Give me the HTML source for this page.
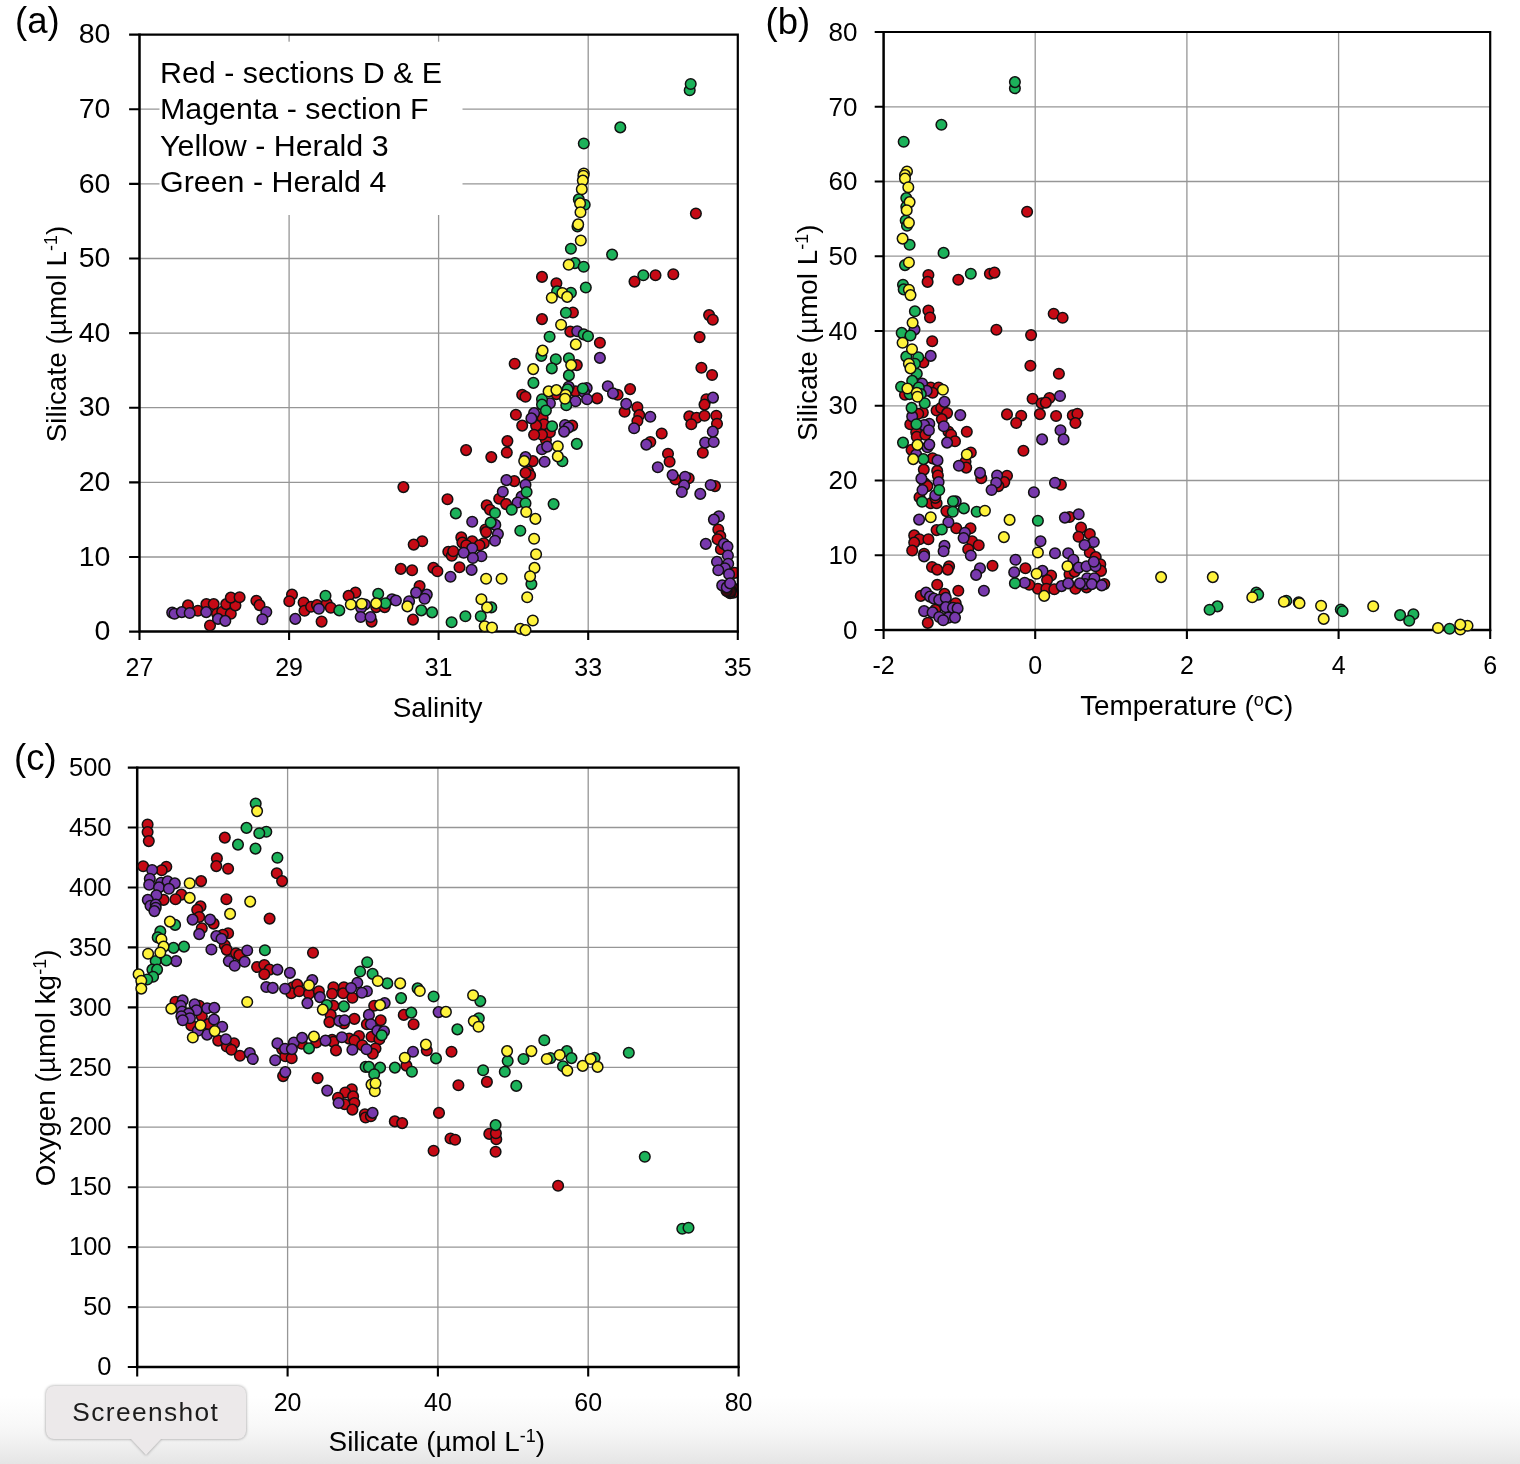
<!DOCTYPE html>
<html><head><meta charset="utf-8"><title>Figure</title>
<style>
html,body{margin:0;padding:0;background:#fff;}
body{width:1520px;height:1464px;overflow:hidden;position:relative;font-family:"Liberation Sans",sans-serif;}
svg{position:absolute;left:0;top:0;}
.tk{font-family:"Liberation Sans",sans-serif;fill:#000;}
.ax{font-family:"Liberation Sans",sans-serif;font-size:27.9px;fill:#000;}
.pl{font-family:"Liberation Sans",sans-serif;font-size:36.5px;fill:#000;}
.lg{font-family:"Liberation Sans",sans-serif;font-size:30.4px;fill:#000;}
.pt circle{stroke:#111;stroke-width:1.5;}
.fade{position:absolute;left:0;top:1396px;width:1520px;height:68px;background:linear-gradient(#fff 0%,#fcfcfc 20%,#f8f8f8 44%,#f1f1f1 68%,#e5e5e5 100%);}
.tip{position:absolute;left:46px;top:1386px;width:199.6px;height:52.5px;border-radius:8px;background:#ece9ea;filter:drop-shadow(0 0.5px 1.5px rgba(0,0,0,.4));font-size:26.3px;line-height:52px;text-align:center;color:#1c1c1c;letter-spacing:1.4px;}
.tip:after{content:"";position:absolute;left:83.7px;top:52px;border:16px solid transparent;border-top:17.5px solid #ece9ea;border-bottom:0;}
</style></head><body>
<div class="fade"></div>
<svg width="1520" height="1464" viewBox="0 0 1520 1464">
<!-- panel a -->
<path d="M289.1 34.6V631.6M438.6 34.6V631.6M588.2 34.6V631.6M139.5 557.0H737.8M139.5 482.4H737.8M139.5 407.7H737.8M139.5 333.1H737.8M139.5 258.5H737.8M139.5 183.9H737.8M139.5 109.2H737.8" stroke="#969696" stroke-width="1.3" fill="none"/>
<rect x="159.5" y="41.7" width="303" height="173.3" fill="#fff"/>
<path d="M139.5 631.6v8.5M289.1 631.6v8.5M438.6 631.6v8.5M588.2 631.6v8.5M737.8 631.6v8.5M139.5 631.6h-10.4M139.5 557.0h-10.4M139.5 482.4h-10.4M139.5 407.7h-10.4M139.5 333.1h-10.4M139.5 258.5h-10.4M139.5 183.9h-10.4M139.5 109.2h-10.4M139.5 34.6h-10.4" stroke="#000" stroke-width="2.1" fill="none"/>
<path d="M139.5 33.6V632.8000000000001M138.3 631.6H738.8" stroke="#000" stroke-width="2.5" fill="none"/>
<text class="tk" font-size="25" x="139.5" y="675.5" text-anchor="middle">27</text>
<text class="tk" font-size="25" x="289.1" y="675.5" text-anchor="middle">29</text>
<text class="tk" font-size="25" x="438.6" y="675.5" text-anchor="middle">31</text>
<text class="tk" font-size="25" x="588.2" y="675.5" text-anchor="middle">33</text>
<text class="tk" font-size="25" x="737.8" y="675.5" text-anchor="middle">35</text>
<text class="tk" font-size="28.5" x="110.4" y="640.2" text-anchor="end">0</text>
<text class="tk" font-size="28.5" x="110.4" y="565.6" text-anchor="end">10</text>
<text class="tk" font-size="28.5" x="110.4" y="491.0" text-anchor="end">20</text>
<text class="tk" font-size="28.5" x="110.4" y="416.3" text-anchor="end">30</text>
<text class="tk" font-size="28.5" x="110.4" y="341.7" text-anchor="end">40</text>
<text class="tk" font-size="28.5" x="110.4" y="267.1" text-anchor="end">50</text>
<text class="tk" font-size="28.5" x="110.4" y="192.5" text-anchor="end">60</text>
<text class="tk" font-size="28.5" x="110.4" y="117.8" text-anchor="end">70</text>
<text class="tk" font-size="28.5" x="110.4" y="43.2" text-anchor="end">80</text>
<clipPath id="ca"><rect x="100" y="0" width="638.3" height="700"/></clipPath>
<g class="pt" clip-path="url(#ca)"><g fill="#c60a15">
<circle cx="188.0" cy="605.4" r="5.3"/><circle cx="197.9" cy="610.8" r="5.3"/><circle cx="206.4" cy="604.1" r="5.3"/><circle cx="213.7" cy="604.1" r="5.3"/><circle cx="217.0" cy="613.7" r="5.3"/><circle cx="222.2" cy="611.7" r="5.3"/><circle cx="226.2" cy="604.1" r="5.3"/><circle cx="230.8" cy="613.7" r="5.3"/><circle cx="235.4" cy="605.4" r="5.3"/><circle cx="230.8" cy="597.6" r="5.3"/><circle cx="239.6" cy="597.2" r="5.3"/><circle cx="210.0" cy="625.5" r="5.3"/><circle cx="256.4" cy="600.8" r="5.3"/><circle cx="259.5" cy="605.1" r="5.3"/><circle cx="292.0" cy="594.6" r="5.3"/><circle cx="289.3" cy="601.2" r="5.3"/><circle cx="303.6" cy="602.5" r="5.3"/><circle cx="304.5" cy="610.8" r="5.3"/><circle cx="311.1" cy="606.8" r="5.3"/><circle cx="317.0" cy="605.1" r="5.3"/><circle cx="326.8" cy="603.2" r="5.3"/><circle cx="330.8" cy="607.8" r="5.3"/><circle cx="321.6" cy="621.6" r="5.3"/><circle cx="466.1" cy="450.1" r="5.3"/><circle cx="507.4" cy="441.1" r="5.3"/><circle cx="491.3" cy="457.1" r="5.3"/><circle cx="506.8" cy="452.5" r="5.3"/><circle cx="532.8" cy="461.1" r="5.3"/><circle cx="528.2" cy="471.6" r="5.3"/><circle cx="530.1" cy="475.3" r="5.3"/><circle cx="525.5" cy="472.9" r="5.3"/><circle cx="514.3" cy="481.1" r="5.3"/><circle cx="403.4" cy="487.1" r="5.3"/><circle cx="447.5" cy="499.2" r="5.3"/><circle cx="486.7" cy="505.4" r="5.3"/><circle cx="490.0" cy="509.7" r="5.3"/><circle cx="499.2" cy="498.8" r="5.3"/><circle cx="506.1" cy="504.1" r="5.3"/><circle cx="485.4" cy="529.5" r="5.3"/><circle cx="486.1" cy="532.1" r="5.3"/><circle cx="461.3" cy="537.4" r="5.3"/><circle cx="462.4" cy="542.6" r="5.3"/><circle cx="472.2" cy="541.3" r="5.3"/><circle cx="466.3" cy="545.3" r="5.3"/><circle cx="483.8" cy="543.3" r="5.3"/><circle cx="479.5" cy="545.3" r="5.3"/><circle cx="422.2" cy="541.3" r="5.3"/><circle cx="413.7" cy="544.6" r="5.3"/><circle cx="448.3" cy="551.8" r="5.3"/><circle cx="451.8" cy="555.8" r="5.3"/><circle cx="453.2" cy="551.2" r="5.3"/><circle cx="400.8" cy="568.9" r="5.3"/><circle cx="412.1" cy="570.3" r="5.3"/><circle cx="433.4" cy="567.9" r="5.3"/><circle cx="437.4" cy="571.2" r="5.3"/><circle cx="459.5" cy="567.2" r="5.3"/><circle cx="419.6" cy="586.1" r="5.3"/><circle cx="355.5" cy="592.6" r="5.3"/><circle cx="348.6" cy="595.9" r="5.3"/><circle cx="371.6" cy="621.6" r="5.3"/><circle cx="413.0" cy="619.6" r="5.3"/><circle cx="376.2" cy="607.1" r="5.3"/><circle cx="384.7" cy="607.1" r="5.3"/><circle cx="545.9" cy="440.0" r="5.3"/><circle cx="668.0" cy="453.8" r="5.3"/><circle cx="669.6" cy="461.7" r="5.3"/><circle cx="702.8" cy="452.8" r="5.3"/><circle cx="675.5" cy="479.5" r="5.3"/><circle cx="688.7" cy="478.2" r="5.3"/><circle cx="715.0" cy="486.1" r="5.3"/><circle cx="650.3" cy="442.0" r="5.3"/><circle cx="718.3" cy="529.5" r="5.3"/><circle cx="720.3" cy="536.1" r="5.3"/><circle cx="717.6" cy="539.3" r="5.3"/><circle cx="720.9" cy="549.2" r="5.3"/><circle cx="734.7" cy="572.9" r="5.3"/><circle cx="728.2" cy="591.3" r="5.3"/><circle cx="731.4" cy="590.0" r="5.3"/><circle cx="733.4" cy="592.6" r="5.3"/><circle cx="730.1" cy="593.3" r="5.3"/><circle cx="726.8" cy="589.3" r="5.3"/><circle cx="732.1" cy="587.4" r="5.3"/><circle cx="542.0" cy="276.9" r="5.3"/><circle cx="556.4" cy="283.3" r="5.3"/><circle cx="634.5" cy="281.6" r="5.3"/><circle cx="655.5" cy="275.2" r="5.3"/><circle cx="673.3" cy="274.3" r="5.3"/><circle cx="572.9" cy="312.5" r="5.3"/><circle cx="542.0" cy="319.1" r="5.3"/><circle cx="570.3" cy="331.6" r="5.3"/><circle cx="599.9" cy="342.7" r="5.3"/><circle cx="709.1" cy="315.1" r="5.3"/><circle cx="712.8" cy="319.7" r="5.3"/><circle cx="699.6" cy="337.1" r="5.3"/><circle cx="576.8" cy="365.1" r="5.3"/><circle cx="701.4" cy="367.7" r="5.3"/><circle cx="712.1" cy="375.0" r="5.3"/><circle cx="630.1" cy="389.1" r="5.3"/><circle cx="617.6" cy="394.7" r="5.3"/><circle cx="597.2" cy="398.4" r="5.3"/><circle cx="575.5" cy="391.4" r="5.3"/><circle cx="556.4" cy="394.1" r="5.3"/><circle cx="637.4" cy="407.2" r="5.3"/><circle cx="624.6" cy="411.8" r="5.3"/><circle cx="639.3" cy="415.1" r="5.3"/><circle cx="637.4" cy="421.0" r="5.3"/><circle cx="706.4" cy="399.3" r="5.3"/><circle cx="704.5" cy="404.6" r="5.3"/><circle cx="689.3" cy="416.4" r="5.3"/><circle cx="696.6" cy="417.7" r="5.3"/><circle cx="704.5" cy="415.8" r="5.3"/><circle cx="691.3" cy="424.3" r="5.3"/><circle cx="716.3" cy="415.8" r="5.3"/><circle cx="717.0" cy="423.7" r="5.3"/><circle cx="661.7" cy="433.5" r="5.3"/><circle cx="572.2" cy="425.6" r="5.3"/><circle cx="542.6" cy="417.7" r="5.3"/><circle cx="543.9" cy="424.3" r="5.3"/><circle cx="549.9" cy="432.2" r="5.3"/><circle cx="542.0" cy="434.8" r="5.3"/><circle cx="695.9" cy="213.5" r="5.3"/><circle cx="514.7" cy="363.8" r="5.3"/><circle cx="522.2" cy="394.7" r="5.3"/><circle cx="525.5" cy="396.7" r="5.3"/><circle cx="515.9" cy="414.7" r="5.3"/><circle cx="522.2" cy="425.6" r="5.3"/><circle cx="536.1" cy="425.6" r="5.3"/><circle cx="534.1" cy="434.8" r="5.3"/>
</g>
<g fill="#3a0a10">
<circle cx="727.5" cy="590.5" r="5.3"/><circle cx="729.5" cy="591.5" r="5.3"/><circle cx="731.0" cy="590.0" r="5.3"/><circle cx="728.5" cy="592.0" r="5.3"/><circle cx="730.5" cy="591.8" r="5.3"/><circle cx="726.5" cy="591.0" r="5.3"/>
</g>
<g fill="#7839ac">
<circle cx="172.2" cy="612.6" r="5.3"/><circle cx="174.5" cy="613.7" r="5.3"/><circle cx="181.8" cy="612.1" r="5.3"/><circle cx="189.7" cy="613.0" r="5.3"/><circle cx="206.2" cy="612.1" r="5.3"/><circle cx="218.0" cy="618.9" r="5.3"/><circle cx="225.3" cy="620.9" r="5.3"/><circle cx="266.3" cy="612.0" r="5.3"/><circle cx="262.4" cy="619.3" r="5.3"/><circle cx="295.3" cy="618.9" r="5.3"/><circle cx="318.9" cy="608.8" r="5.3"/><circle cx="525.5" cy="457.1" r="5.3"/><circle cx="506.4" cy="480.1" r="5.3"/><circle cx="525.5" cy="484.7" r="5.3"/><circle cx="502.8" cy="491.7" r="5.3"/><circle cx="521.6" cy="496.6" r="5.3"/><circle cx="517.6" cy="502.5" r="5.3"/><circle cx="472.2" cy="521.8" r="5.3"/><circle cx="495.3" cy="524.9" r="5.3"/><circle cx="497.9" cy="534.1" r="5.3"/><circle cx="495.0" cy="540.7" r="5.3"/><circle cx="472.2" cy="548.2" r="5.3"/><circle cx="463.7" cy="552.8" r="5.3"/><circle cx="481.4" cy="556.2" r="5.3"/><circle cx="472.9" cy="558.0" r="5.3"/><circle cx="471.6" cy="569.9" r="5.3"/><circle cx="450.5" cy="576.8" r="5.3"/><circle cx="416.1" cy="592.6" r="5.3"/><circle cx="426.8" cy="594.6" r="5.3"/><circle cx="424.6" cy="598.8" r="5.3"/><circle cx="409.1" cy="601.2" r="5.3"/><circle cx="392.0" cy="599.2" r="5.3"/><circle cx="395.9" cy="600.5" r="5.3"/><circle cx="365.0" cy="604.5" r="5.3"/><circle cx="361.1" cy="607.8" r="5.3"/><circle cx="360.7" cy="617.0" r="5.3"/><circle cx="370.5" cy="617.0" r="5.3"/><circle cx="542.0" cy="449.2" r="5.3"/><circle cx="547.2" cy="446.6" r="5.3"/><circle cx="544.6" cy="461.7" r="5.3"/><circle cx="646.3" cy="444.6" r="5.3"/><circle cx="657.8" cy="467.2" r="5.3"/><circle cx="672.6" cy="475.1" r="5.3"/><circle cx="685.1" cy="476.8" r="5.3"/><circle cx="684.1" cy="485.4" r="5.3"/><circle cx="681.8" cy="492.0" r="5.3"/><circle cx="700.3" cy="493.9" r="5.3"/><circle cx="710.7" cy="485.0" r="5.3"/><circle cx="705.1" cy="442.6" r="5.3"/><circle cx="713.7" cy="442.0" r="5.3"/><circle cx="718.9" cy="516.3" r="5.3"/><circle cx="713.9" cy="519.6" r="5.3"/><circle cx="705.8" cy="543.9" r="5.3"/><circle cx="723.9" cy="543.9" r="5.3"/><circle cx="727.5" cy="546.6" r="5.3"/><circle cx="727.9" cy="555.5" r="5.3"/><circle cx="717.0" cy="561.7" r="5.3"/><circle cx="728.2" cy="563.7" r="5.3"/><circle cx="724.9" cy="568.3" r="5.3"/><circle cx="718.3" cy="570.3" r="5.3"/><circle cx="729.1" cy="574.2" r="5.3"/><circle cx="722.2" cy="585.4" r="5.3"/><circle cx="726.8" cy="587.4" r="5.3"/><circle cx="730.1" cy="583.4" r="5.3"/><circle cx="577.2" cy="331.2" r="5.3"/><circle cx="599.9" cy="357.9" r="5.3"/><circle cx="607.8" cy="386.2" r="5.3"/><circle cx="613.0" cy="393.4" r="5.3"/><circle cx="626.2" cy="403.9" r="5.3"/><circle cx="650.3" cy="416.8" r="5.3"/><circle cx="634.1" cy="428.3" r="5.3"/><circle cx="713.0" cy="397.6" r="5.3"/><circle cx="712.8" cy="431.6" r="5.3"/><circle cx="568.7" cy="386.8" r="5.3"/><circle cx="586.7" cy="388.1" r="5.3"/><circle cx="584.1" cy="392.1" r="5.3"/><circle cx="587.1" cy="399.3" r="5.3"/><circle cx="575.5" cy="401.3" r="5.3"/><circle cx="549.9" cy="403.3" r="5.3"/><circle cx="565.0" cy="425.0" r="5.3"/><circle cx="568.3" cy="427.6" r="5.3"/><circle cx="564.1" cy="431.6" r="5.3"/><circle cx="534.1" cy="413.1" r="5.3"/><circle cx="531.4" cy="418.4" r="5.3"/>
</g>
<g fill="#1cb25a">
<circle cx="325.5" cy="595.7" r="5.3"/><circle cx="339.3" cy="610.4" r="5.3"/><circle cx="526.6" cy="492.0" r="5.3"/><circle cx="525.5" cy="503.2" r="5.3"/><circle cx="511.7" cy="509.7" r="5.3"/><circle cx="495.0" cy="513.0" r="5.3"/><circle cx="455.8" cy="513.4" r="5.3"/><circle cx="490.7" cy="522.6" r="5.3"/><circle cx="520.3" cy="530.8" r="5.3"/><circle cx="531.4" cy="584.1" r="5.3"/><circle cx="378.2" cy="593.9" r="5.3"/><circle cx="385.4" cy="603.2" r="5.3"/><circle cx="421.3" cy="610.4" r="5.3"/><circle cx="432.1" cy="612.4" r="5.3"/><circle cx="451.6" cy="622.2" r="5.3"/><circle cx="465.4" cy="616.3" r="5.3"/><circle cx="480.8" cy="616.3" r="5.3"/><circle cx="491.3" cy="607.4" r="5.3"/><circle cx="576.8" cy="443.9" r="5.3"/><circle cx="562.4" cy="461.3" r="5.3"/><circle cx="553.6" cy="504.1" r="5.3"/><circle cx="570.9" cy="248.7" r="5.3"/><circle cx="612.1" cy="254.6" r="5.3"/><circle cx="574.9" cy="263.1" r="5.3"/><circle cx="583.7" cy="266.8" r="5.3"/><circle cx="643.3" cy="275.2" r="5.3"/><circle cx="585.8" cy="287.5" r="5.3"/><circle cx="557.1" cy="291.4" r="5.3"/><circle cx="570.9" cy="292.7" r="5.3"/><circle cx="565.9" cy="312.7" r="5.3"/><circle cx="583.7" cy="334.4" r="5.3"/><circle cx="588.0" cy="336.2" r="5.3"/><circle cx="549.6" cy="336.8" r="5.3"/><circle cx="555.8" cy="359.2" r="5.3"/><circle cx="568.9" cy="358.3" r="5.3"/><circle cx="551.8" cy="368.4" r="5.3"/><circle cx="568.9" cy="375.4" r="5.3"/><circle cx="567.6" cy="389.4" r="5.3"/><circle cx="582.8" cy="388.5" r="5.3"/><circle cx="542.0" cy="399.3" r="5.3"/><circle cx="542.0" cy="404.6" r="5.3"/><circle cx="545.9" cy="410.5" r="5.3"/><circle cx="566.3" cy="405.2" r="5.3"/><circle cx="552.1" cy="426.3" r="5.3"/><circle cx="541.3" cy="355.9" r="5.3"/><circle cx="689.7" cy="90.2" r="5.3"/><circle cx="690.7" cy="84.0" r="5.3"/><circle cx="620.3" cy="127.4" r="5.3"/><circle cx="583.8" cy="143.5" r="5.3"/><circle cx="578.8" cy="199.4" r="5.3"/><circle cx="584.7" cy="204.7" r="5.3"/><circle cx="577.5" cy="226.4" r="5.3"/><circle cx="533.4" cy="382.9" r="5.3"/>
</g>
<g fill="#fff33c">
<circle cx="524.2" cy="461.1" r="5.3"/><circle cx="526.2" cy="512.0" r="5.3"/><circle cx="535.4" cy="518.9" r="5.3"/><circle cx="534.1" cy="538.7" r="5.3"/><circle cx="536.1" cy="554.2" r="5.3"/><circle cx="534.5" cy="567.9" r="5.3"/><circle cx="530.1" cy="576.2" r="5.3"/><circle cx="486.1" cy="578.8" r="5.3"/><circle cx="501.6" cy="578.8" r="5.3"/><circle cx="527.2" cy="597.2" r="5.3"/><circle cx="481.4" cy="599.2" r="5.3"/><circle cx="487.1" cy="607.4" r="5.3"/><circle cx="532.8" cy="620.5" r="5.3"/><circle cx="484.7" cy="626.2" r="5.3"/><circle cx="492.0" cy="627.5" r="5.3"/><circle cx="520.3" cy="628.8" r="5.3"/><circle cx="525.5" cy="630.1" r="5.3"/><circle cx="350.8" cy="604.5" r="5.3"/><circle cx="361.7" cy="603.8" r="5.3"/><circle cx="376.2" cy="603.4" r="5.3"/><circle cx="407.4" cy="606.4" r="5.3"/><circle cx="557.8" cy="446.2" r="5.3"/><circle cx="557.8" cy="456.4" r="5.3"/><circle cx="568.7" cy="264.7" r="5.3"/><circle cx="562.4" cy="293.0" r="5.3"/><circle cx="567.2" cy="296.9" r="5.3"/><circle cx="551.8" cy="297.7" r="5.3"/><circle cx="561.1" cy="324.7" r="5.3"/><circle cx="575.8" cy="344.4" r="5.3"/><circle cx="542.6" cy="350.6" r="5.3"/><circle cx="571.2" cy="365.1" r="5.3"/><circle cx="548.6" cy="391.4" r="5.3"/><circle cx="556.4" cy="390.1" r="5.3"/><circle cx="565.7" cy="394.7" r="5.3"/><circle cx="565.0" cy="398.7" r="5.3"/><circle cx="583.8" cy="173.5" r="5.3"/><circle cx="583.4" cy="175.7" r="5.3"/><circle cx="582.8" cy="180.6" r="5.3"/><circle cx="581.8" cy="189.2" r="5.3"/><circle cx="580.1" cy="203.4" r="5.3"/><circle cx="580.5" cy="212.2" r="5.3"/><circle cx="578.2" cy="224.4" r="5.3"/><circle cx="580.8" cy="240.5" r="5.3"/><circle cx="533.2" cy="369.1" r="5.3"/>
</g></g>
<path d="M139.5 34.6H737.8V632.6" stroke="#000" stroke-width="2.2" fill="none"/>
<text class="pl" x="15" y="33">(a)</text>
<text class="lg" x="160" y="82.5">Red - sections D &amp; E</text>
<text class="lg" x="160" y="119">Magenta - section F</text>
<text class="lg" x="160" y="155.5">Yellow - Herald 3</text>
<text class="lg" x="160" y="192">Green - Herald 4</text>
<text class="ax" x="437.6" y="716.7" text-anchor="middle">Salinity</text>
<text class="ax" transform="translate(66.4,334) rotate(-90)" text-anchor="middle">Silicate (µmol L<tspan dy="-9" font-size="18">-1</tspan><tspan dy="9">)</tspan></text>
<!-- panel b -->
<path d="M1035.2 32.0V630.0M1186.9 32.0V630.0M1338.6 32.0V630.0M883.6 555.2H1490.2M883.6 480.5H1490.2M883.6 405.8H1490.2M883.6 331.0H1490.2M883.6 256.2H1490.2M883.6 181.5H1490.2M883.6 106.8H1490.2" stroke="#969696" stroke-width="1.3" fill="none"/>
<path d="M883.6 630.0v9M1035.2 630.0v9M1186.9 630.0v9M1338.6 630.0v9M1490.2 630.0v9M883.6 630.0h-8.9M883.6 555.2h-8.9M883.6 480.5h-8.9M883.6 405.8h-8.9M883.6 331.0h-8.9M883.6 256.2h-8.9M883.6 181.5h-8.9M883.6 106.8h-8.9M883.6 32.0h-8.9" stroke="#000" stroke-width="2.1" fill="none"/>
<path d="M883.6 31.0V631.2M882.4 630.0H1491.2" stroke="#000" stroke-width="2.5" fill="none"/>
<text class="tk" font-size="25" x="883.6" y="673.5" text-anchor="middle">-2</text>
<text class="tk" font-size="25" x="1035.2" y="673.5" text-anchor="middle">0</text>
<text class="tk" font-size="25" x="1186.9" y="673.5" text-anchor="middle">2</text>
<text class="tk" font-size="25" x="1338.6" y="673.5" text-anchor="middle">4</text>
<text class="tk" font-size="25" x="1490.2" y="673.5" text-anchor="middle">6</text>
<text class="tk" font-size="26" x="857.5" y="638.7" text-anchor="end">0</text>
<text class="tk" font-size="26" x="857.5" y="564.0" text-anchor="end">10</text>
<text class="tk" font-size="26" x="857.5" y="489.2" text-anchor="end">20</text>
<text class="tk" font-size="26" x="857.5" y="414.4" text-anchor="end">30</text>
<text class="tk" font-size="26" x="857.5" y="339.7" text-anchor="end">40</text>
<text class="tk" font-size="26" x="857.5" y="264.9" text-anchor="end">50</text>
<text class="tk" font-size="26" x="857.5" y="190.2" text-anchor="end">60</text>
<text class="tk" font-size="26" x="857.5" y="115.5" text-anchor="end">70</text>
<text class="tk" font-size="26" x="857.5" y="40.7" text-anchor="end">80</text>
<g class="pt"><g fill="#c60a15">
<circle cx="1027.1" cy="211.7" r="5.3"/><circle cx="928.4" cy="275.0" r="5.3"/><circle cx="927.6" cy="281.9" r="5.3"/><circle cx="958.3" cy="279.8" r="5.3"/><circle cx="989.9" cy="273.7" r="5.3"/><circle cx="994.5" cy="272.6" r="5.3"/><circle cx="928.4" cy="310.5" r="5.3"/><circle cx="930.0" cy="317.5" r="5.3"/><circle cx="1053.7" cy="313.8" r="5.3"/><circle cx="1062.6" cy="317.7" r="5.3"/><circle cx="996.4" cy="329.8" r="5.3"/><circle cx="1031.1" cy="335.1" r="5.3"/><circle cx="932.2" cy="341.2" r="5.3"/><circle cx="923.4" cy="362.5" r="5.3"/><circle cx="1030.4" cy="365.8" r="5.3"/><circle cx="1058.9" cy="373.7" r="5.3"/><circle cx="930.7" cy="387.5" r="5.3"/><circle cx="938.6" cy="387.5" r="5.3"/><circle cx="932.6" cy="392.7" r="5.3"/><circle cx="905.0" cy="394.7" r="5.3"/><circle cx="1032.6" cy="398.7" r="5.3"/><circle cx="1041.6" cy="403.3" r="5.3"/><circle cx="1049.5" cy="398.0" r="5.3"/><circle cx="1045.8" cy="402.6" r="5.3"/><circle cx="936.6" cy="410.5" r="5.3"/><circle cx="941.2" cy="407.9" r="5.3"/><circle cx="947.1" cy="413.1" r="5.3"/><circle cx="941.8" cy="419.1" r="5.3"/><circle cx="922.8" cy="412.5" r="5.3"/><circle cx="918.2" cy="413.8" r="5.3"/><circle cx="1007.0" cy="414.4" r="5.3"/><circle cx="1021.2" cy="415.8" r="5.3"/><circle cx="1016.2" cy="423.0" r="5.3"/><circle cx="1039.9" cy="414.1" r="5.3"/><circle cx="1056.1" cy="416.0" r="5.3"/><circle cx="1072.8" cy="415.4" r="5.3"/><circle cx="1077.4" cy="413.8" r="5.3"/><circle cx="1075.4" cy="423.0" r="5.3"/><circle cx="966.8" cy="431.8" r="5.3"/><circle cx="948.4" cy="431.6" r="5.3"/><circle cx="951.1" cy="434.8" r="5.3"/><circle cx="916.2" cy="432.2" r="5.3"/><circle cx="916.8" cy="436.8" r="5.3"/><circle cx="925.4" cy="434.8" r="5.3"/><circle cx="910.3" cy="424.3" r="5.3"/><circle cx="955.0" cy="441.3" r="5.3"/><circle cx="911.6" cy="449.9" r="5.3"/><circle cx="970.8" cy="452.5" r="5.3"/><circle cx="1023.4" cy="450.8" r="5.3"/><circle cx="932.6" cy="458.4" r="5.3"/><circle cx="965.5" cy="461.7" r="5.3"/><circle cx="966.2" cy="467.6" r="5.3"/><circle cx="923.8" cy="469.6" r="5.3"/><circle cx="937.2" cy="470.9" r="5.3"/><circle cx="937.9" cy="475.5" r="5.3"/><circle cx="1007.0" cy="475.8" r="5.3"/><circle cx="981.3" cy="478.2" r="5.3"/><circle cx="1004.3" cy="482.1" r="5.3"/><circle cx="998.4" cy="486.1" r="5.3"/><circle cx="1060.9" cy="484.7" r="5.3"/><circle cx="924.7" cy="483.4" r="5.3"/><circle cx="927.4" cy="486.1" r="5.3"/><circle cx="919.5" cy="497.2" r="5.3"/><circle cx="930.7" cy="503.2" r="5.3"/><circle cx="936.6" cy="503.2" r="5.3"/><circle cx="935.3" cy="497.9" r="5.3"/><circle cx="946.4" cy="511.1" r="5.3"/><circle cx="1069.5" cy="517.0" r="5.3"/><circle cx="936.6" cy="530.1" r="5.3"/><circle cx="956.3" cy="528.2" r="5.3"/><circle cx="970.5" cy="528.2" r="5.3"/><circle cx="914.2" cy="535.4" r="5.3"/><circle cx="919.5" cy="539.3" r="5.3"/><circle cx="928.4" cy="539.3" r="5.3"/><circle cx="914.2" cy="542.6" r="5.3"/><circle cx="972.1" cy="541.3" r="5.3"/><circle cx="978.7" cy="545.3" r="5.3"/><circle cx="968.2" cy="549.2" r="5.3"/><circle cx="912.2" cy="550.5" r="5.3"/><circle cx="924.1" cy="553.8" r="5.3"/><circle cx="932.0" cy="567.0" r="5.3"/><circle cx="937.2" cy="569.6" r="5.3"/><circle cx="949.1" cy="566.3" r="5.3"/><circle cx="947.8" cy="569.6" r="5.3"/><circle cx="992.5" cy="565.7" r="5.3"/><circle cx="1025.4" cy="568.3" r="5.3"/><circle cx="1051.1" cy="575.5" r="5.3"/><circle cx="1047.1" cy="580.1" r="5.3"/><circle cx="1037.9" cy="588.7" r="5.3"/><circle cx="1046.4" cy="588.7" r="5.3"/><circle cx="1054.3" cy="589.3" r="5.3"/><circle cx="1069.5" cy="574.2" r="5.3"/><circle cx="1075.4" cy="588.7" r="5.3"/><circle cx="1074.7" cy="571.6" r="5.3"/><circle cx="1029.3" cy="584.7" r="5.3"/><circle cx="937.2" cy="584.7" r="5.3"/><circle cx="958.3" cy="590.7" r="5.3"/><circle cx="920.8" cy="595.9" r="5.3"/><circle cx="944.5" cy="593.9" r="5.3"/><circle cx="955.7" cy="603.2" r="5.3"/><circle cx="935.3" cy="609.7" r="5.3"/><circle cx="927.8" cy="622.9" r="5.3"/><circle cx="1081.0" cy="527.5" r="5.3"/><circle cx="1089.8" cy="534.1" r="5.3"/><circle cx="1078.6" cy="536.7" r="5.3"/><circle cx="1089.8" cy="552.5" r="5.3"/><circle cx="1095.7" cy="557.1" r="5.3"/><circle cx="1100.3" cy="564.3" r="5.3"/><circle cx="1101.0" cy="570.9" r="5.3"/><circle cx="1104.3" cy="584.1" r="5.3"/><circle cx="1086.5" cy="587.4" r="5.3"/>
</g>
<g fill="#3a0a10">

</g>
<g fill="#7839ac">
<circle cx="914.5" cy="329.6" r="5.3"/><circle cx="930.7" cy="355.9" r="5.3"/><circle cx="922.1" cy="383.5" r="5.3"/><circle cx="926.7" cy="390.8" r="5.3"/><circle cx="1060.0" cy="396.0" r="5.3"/><circle cx="944.5" cy="401.9" r="5.3"/><circle cx="960.3" cy="415.1" r="5.3"/><circle cx="912.2" cy="416.4" r="5.3"/><circle cx="943.8" cy="426.3" r="5.3"/><circle cx="929.3" cy="423.7" r="5.3"/><circle cx="924.1" cy="425.0" r="5.3"/><circle cx="928.9" cy="430.2" r="5.3"/><circle cx="1060.5" cy="430.2" r="5.3"/><circle cx="1042.1" cy="439.4" r="5.3"/><circle cx="1063.6" cy="439.4" r="5.3"/><circle cx="947.1" cy="442.6" r="5.3"/><circle cx="927.4" cy="447.2" r="5.3"/><circle cx="929.3" cy="444.6" r="5.3"/><circle cx="937.5" cy="460.4" r="5.3"/><circle cx="916.2" cy="454.5" r="5.3"/><circle cx="958.9" cy="465.7" r="5.3"/><circle cx="980.0" cy="472.9" r="5.3"/><circle cx="997.1" cy="475.5" r="5.3"/><circle cx="996.2" cy="482.8" r="5.3"/><circle cx="991.6" cy="490.0" r="5.3"/><circle cx="921.4" cy="478.6" r="5.3"/><circle cx="938.6" cy="482.1" r="5.3"/><circle cx="922.5" cy="490.0" r="5.3"/><circle cx="935.3" cy="495.3" r="5.3"/><circle cx="1033.9" cy="492.2" r="5.3"/><circle cx="1055.0" cy="482.8" r="5.3"/><circle cx="955.7" cy="501.2" r="5.3"/><circle cx="919.1" cy="519.6" r="5.3"/><circle cx="948.4" cy="522.2" r="5.3"/><circle cx="964.9" cy="532.8" r="5.3"/><circle cx="963.6" cy="538.0" r="5.3"/><circle cx="944.5" cy="545.9" r="5.3"/><circle cx="943.6" cy="551.2" r="5.3"/><circle cx="970.8" cy="555.5" r="5.3"/><circle cx="924.1" cy="556.4" r="5.3"/><circle cx="1040.5" cy="541.3" r="5.3"/><circle cx="1055.0" cy="553.2" r="5.3"/><circle cx="1068.2" cy="553.2" r="5.3"/><circle cx="1073.4" cy="559.7" r="5.3"/><circle cx="1064.9" cy="517.6" r="5.3"/><circle cx="1078.7" cy="514.3" r="5.3"/><circle cx="1015.5" cy="559.7" r="5.3"/><circle cx="1014.2" cy="572.2" r="5.3"/><circle cx="1042.5" cy="570.9" r="5.3"/><circle cx="1024.7" cy="582.8" r="5.3"/><circle cx="980.0" cy="568.3" r="5.3"/><circle cx="976.1" cy="574.9" r="5.3"/><circle cx="983.9" cy="590.7" r="5.3"/><circle cx="1061.6" cy="586.1" r="5.3"/><circle cx="1068.2" cy="583.4" r="5.3"/><circle cx="1078.7" cy="567.6" r="5.3"/><circle cx="926.1" cy="592.6" r="5.3"/><circle cx="930.0" cy="596.6" r="5.3"/><circle cx="933.9" cy="598.6" r="5.3"/><circle cx="939.2" cy="599.9" r="5.3"/><circle cx="945.8" cy="597.9" r="5.3"/><circle cx="924.1" cy="611.1" r="5.3"/><circle cx="932.6" cy="612.4" r="5.3"/><circle cx="945.8" cy="607.1" r="5.3"/><circle cx="953.0" cy="607.8" r="5.3"/><circle cx="957.6" cy="608.4" r="5.3"/><circle cx="939.2" cy="617.0" r="5.3"/><circle cx="948.4" cy="617.6" r="5.3"/><circle cx="955.0" cy="617.6" r="5.3"/><circle cx="943.2" cy="620.3" r="5.3"/><circle cx="1093.8" cy="542.0" r="5.3"/><circle cx="1084.6" cy="545.0" r="5.3"/><circle cx="1086.5" cy="566.3" r="5.3"/><circle cx="1095.5" cy="566.3" r="5.3"/><circle cx="1093.8" cy="561.7" r="5.3"/><circle cx="1087.2" cy="578.2" r="5.3"/><circle cx="1094.4" cy="578.2" r="5.3"/><circle cx="1085.2" cy="584.1" r="5.3"/><circle cx="1091.8" cy="584.1" r="5.3"/><circle cx="1101.7" cy="585.4" r="5.3"/><circle cx="1079.9" cy="583.4" r="5.3"/>
</g>
<g fill="#1cb25a">
<circle cx="1014.9" cy="88.2" r="5.3"/><circle cx="1014.9" cy="82.1" r="5.3"/><circle cx="941.4" cy="124.7" r="5.3"/><circle cx="903.7" cy="141.8" r="5.3"/><circle cx="906.3" cy="198.1" r="5.3"/><circle cx="906.3" cy="206.7" r="5.3"/><circle cx="905.7" cy="220.5" r="5.3"/><circle cx="907.0" cy="225.7" r="5.3"/><circle cx="909.6" cy="244.8" r="5.3"/><circle cx="970.8" cy="273.7" r="5.3"/><circle cx="943.6" cy="252.9" r="5.3"/><circle cx="905.0" cy="265.1" r="5.3"/><circle cx="903.0" cy="284.8" r="5.3"/><circle cx="903.7" cy="289.4" r="5.3"/><circle cx="914.9" cy="311.2" r="5.3"/><circle cx="901.7" cy="332.9" r="5.3"/><circle cx="910.5" cy="335.5" r="5.3"/><circle cx="906.3" cy="356.6" r="5.3"/><circle cx="918.2" cy="357.2" r="5.3"/><circle cx="914.9" cy="363.8" r="5.3"/><circle cx="916.8" cy="373.7" r="5.3"/><circle cx="912.2" cy="380.9" r="5.3"/><circle cx="901.1" cy="386.8" r="5.3"/><circle cx="918.8" cy="387.5" r="5.3"/><circle cx="909.6" cy="394.1" r="5.3"/><circle cx="920.8" cy="394.1" r="5.3"/><circle cx="924.7" cy="403.3" r="5.3"/><circle cx="911.6" cy="407.9" r="5.3"/><circle cx="916.4" cy="424.3" r="5.3"/><circle cx="903.0" cy="442.6" r="5.3"/><circle cx="923.4" cy="459.1" r="5.3"/><circle cx="939.2" cy="490.0" r="5.3"/><circle cx="922.1" cy="501.8" r="5.3"/><circle cx="953.0" cy="501.2" r="5.3"/><circle cx="963.9" cy="508.4" r="5.3"/><circle cx="952.8" cy="511.7" r="5.3"/><circle cx="976.7" cy="511.7" r="5.3"/><circle cx="941.8" cy="529.5" r="5.3"/><circle cx="1037.9" cy="520.7" r="5.3"/><circle cx="1014.9" cy="583.2" r="5.3"/><circle cx="1256.3" cy="592.6" r="5.3"/><circle cx="1258.2" cy="594.6" r="5.3"/><circle cx="1217.4" cy="606.4" r="5.3"/><circle cx="1209.6" cy="609.7" r="5.3"/><circle cx="1340.8" cy="609.5" r="5.3"/><circle cx="1342.6" cy="611.3" r="5.3"/><circle cx="1400.1" cy="615.1" r="5.3"/><circle cx="1413.4" cy="614.3" r="5.3"/><circle cx="1409.2" cy="620.8" r="5.3"/><circle cx="1449.6" cy="628.7" r="5.3"/><circle cx="1286.3" cy="600.7" r="5.3"/><circle cx="1298.7" cy="602.2" r="5.3"/>
</g>
<g fill="#fff33c">
<circle cx="907.0" cy="171.5" r="5.3"/><circle cx="905.0" cy="175.1" r="5.3"/><circle cx="905.0" cy="178.6" r="5.3"/><circle cx="908.3" cy="187.3" r="5.3"/><circle cx="909.6" cy="202.1" r="5.3"/><circle cx="906.7" cy="210.2" r="5.3"/><circle cx="908.9" cy="222.8" r="5.3"/><circle cx="902.6" cy="238.6" r="5.3"/><circle cx="908.9" cy="262.5" r="5.3"/><circle cx="908.9" cy="289.8" r="5.3"/><circle cx="910.5" cy="295.1" r="5.3"/><circle cx="912.6" cy="322.7" r="5.3"/><circle cx="902.6" cy="342.7" r="5.3"/><circle cx="912.0" cy="349.3" r="5.3"/><circle cx="908.9" cy="363.8" r="5.3"/><circle cx="910.5" cy="368.4" r="5.3"/><circle cx="907.4" cy="388.5" r="5.3"/><circle cx="942.9" cy="389.7" r="5.3"/><circle cx="916.8" cy="392.7" r="5.3"/><circle cx="917.5" cy="396.7" r="5.3"/><circle cx="917.5" cy="444.9" r="5.3"/><circle cx="913.2" cy="459.1" r="5.3"/><circle cx="966.8" cy="454.5" r="5.3"/><circle cx="984.9" cy="510.8" r="5.3"/><circle cx="930.7" cy="517.2" r="5.3"/><circle cx="1009.6" cy="519.9" r="5.3"/><circle cx="1003.9" cy="537.1" r="5.3"/><circle cx="1037.9" cy="552.5" r="5.3"/><circle cx="1067.5" cy="566.3" r="5.3"/><circle cx="1036.6" cy="573.8" r="5.3"/><circle cx="1044.2" cy="595.9" r="5.3"/><circle cx="1161.1" cy="577.1" r="5.3"/><circle cx="1212.8" cy="577.1" r="5.3"/><circle cx="1252.3" cy="597.2" r="5.3"/><circle cx="1283.9" cy="601.8" r="5.3"/><circle cx="1299.5" cy="603.3" r="5.3"/><circle cx="1321.1" cy="605.7" r="5.3"/><circle cx="1323.7" cy="618.9" r="5.3"/><circle cx="1373.2" cy="606.3" r="5.3"/><circle cx="1438.0" cy="628.0" r="5.3"/><circle cx="1460.3" cy="629.5" r="5.3"/><circle cx="1467.5" cy="625.7" r="5.3"/><circle cx="1460.3" cy="624.6" r="5.3"/>
</g></g>
<path d="M883.6 32.0H1490.2V631.0" stroke="#000" stroke-width="2.2" fill="none"/>
<text class="pl" x="765.5" y="33.5">(b)</text>
<text class="ax" x="1186.7" y="715" text-anchor="middle">Temperature (<tspan dy="-9" font-size="18">o</tspan><tspan dy="9">C)</tspan></text>
<text class="ax" transform="translate(816.8,332.8) rotate(-90)" text-anchor="middle">Silicate (µmol L<tspan dy="-9" font-size="18">-1</tspan><tspan dy="9">)</tspan></text>
<!-- panel c -->
<path d="M287.6 767.6V1367.0M437.9 767.6V1367.0M588.2 767.6V1367.0M137.2 1307.1H738.6M137.2 1247.1H738.6M137.2 1187.2H738.6M137.2 1127.2H738.6M137.2 1067.3H738.6M137.2 1007.4H738.6M137.2 947.4H738.6M137.2 887.5H738.6M137.2 827.5H738.6" stroke="#969696" stroke-width="1.3" fill="none"/>
<path d="M137.2 1367.0v9.5M287.6 1367.0v9.5M437.9 1367.0v9.5M588.2 1367.0v9.5M738.6 1367.0v9.5M137.2 1367.0h-9.4M137.2 1307.1h-9.4M137.2 1247.1h-9.4M137.2 1187.2h-9.4M137.2 1127.2h-9.4M137.2 1067.3h-9.4M137.2 1007.4h-9.4M137.2 947.4h-9.4M137.2 887.5h-9.4M137.2 827.5h-9.4M137.2 767.6h-9.4" stroke="#000" stroke-width="2.1" fill="none"/>
<path d="M137.2 766.6V1368.2M136.0 1367.0H739.6" stroke="#000" stroke-width="2.5" fill="none"/>
<text class="tk" font-size="25" x="137.2" y="1410.5" text-anchor="middle">0</text>
<text class="tk" font-size="25" x="287.6" y="1410.5" text-anchor="middle">20</text>
<text class="tk" font-size="25" x="437.9" y="1410.5" text-anchor="middle">40</text>
<text class="tk" font-size="25" x="588.2" y="1410.5" text-anchor="middle">60</text>
<text class="tk" font-size="25" x="738.6" y="1410.5" text-anchor="middle">80</text>
<text class="tk" font-size="25.5" x="111.5" y="1375.2" text-anchor="end">0</text>
<text class="tk" font-size="25.5" x="111.5" y="1315.3" text-anchor="end">50</text>
<text class="tk" font-size="25.5" x="111.5" y="1255.3" text-anchor="end">100</text>
<text class="tk" font-size="25.5" x="111.5" y="1195.4" text-anchor="end">150</text>
<text class="tk" font-size="25.5" x="111.5" y="1135.4" text-anchor="end">200</text>
<text class="tk" font-size="25.5" x="111.5" y="1075.5" text-anchor="end">250</text>
<text class="tk" font-size="25.5" x="111.5" y="1015.6" text-anchor="end">300</text>
<text class="tk" font-size="25.5" x="111.5" y="955.6" text-anchor="end">350</text>
<text class="tk" font-size="25.5" x="111.5" y="895.7" text-anchor="end">400</text>
<text class="tk" font-size="25.5" x="111.5" y="835.7" text-anchor="end">450</text>
<text class="tk" font-size="25.5" x="111.5" y="775.8" text-anchor="end">500</text>
<g class="pt"><g fill="#c60a15">
<circle cx="147.6" cy="824.5" r="5.3"/><circle cx="147.6" cy="832.1" r="5.3"/><circle cx="148.8" cy="841.1" r="5.3"/><circle cx="224.8" cy="837.6" r="5.3"/><circle cx="216.9" cy="858.4" r="5.3"/><circle cx="216.3" cy="866.1" r="5.3"/><circle cx="228.1" cy="868.7" r="5.3"/><circle cx="143.2" cy="866.3" r="5.3"/><circle cx="166.3" cy="866.7" r="5.3"/><circle cx="161.7" cy="870.3" r="5.3"/><circle cx="201.1" cy="881.1" r="5.3"/><circle cx="276.8" cy="873.2" r="5.3"/><circle cx="282.1" cy="881.1" r="5.3"/><circle cx="181.4" cy="894.6" r="5.3"/><circle cx="175.5" cy="899.2" r="5.3"/><circle cx="163.6" cy="899.9" r="5.3"/><circle cx="226.4" cy="899.2" r="5.3"/><circle cx="200.5" cy="906.4" r="5.3"/><circle cx="197.2" cy="909.7" r="5.3"/><circle cx="199.2" cy="917.0" r="5.3"/><circle cx="269.6" cy="918.6" r="5.3"/><circle cx="213.6" cy="923.6" r="5.3"/><circle cx="201.8" cy="928.2" r="5.3"/><circle cx="228.1" cy="933.2" r="5.3"/><circle cx="222.8" cy="934.7" r="5.3"/><circle cx="224.8" cy="945.3" r="5.3"/><circle cx="226.8" cy="949.9" r="5.3"/><circle cx="236.0" cy="953.2" r="5.3"/><circle cx="239.3" cy="955.1" r="5.3"/><circle cx="313.0" cy="952.8" r="5.3"/><circle cx="257.1" cy="967.0" r="5.3"/><circle cx="264.3" cy="965.0" r="5.3"/><circle cx="269.6" cy="969.6" r="5.3"/><circle cx="264.3" cy="974.2" r="5.3"/><circle cx="292.6" cy="987.3" r="5.3"/><circle cx="297.2" cy="984.6" r="5.3"/><circle cx="291.3" cy="993.2" r="5.3"/><circle cx="299.2" cy="991.2" r="5.3"/><circle cx="309.0" cy="993.8" r="5.3"/><circle cx="318.9" cy="991.2" r="5.3"/><circle cx="333.4" cy="987.3" r="5.3"/><circle cx="332.1" cy="993.8" r="5.3"/><circle cx="333.4" cy="1005.7" r="5.3"/><circle cx="330.7" cy="1014.9" r="5.3"/><circle cx="329.4" cy="1022.1" r="5.3"/><circle cx="175.5" cy="1001.7" r="5.3"/><circle cx="199.2" cy="1005.7" r="5.3"/><circle cx="201.8" cy="1016.2" r="5.3"/><circle cx="191.3" cy="1025.4" r="5.3"/><circle cx="208.4" cy="1024.1" r="5.3"/><circle cx="218.2" cy="1040.6" r="5.3"/><circle cx="234.0" cy="1043.2" r="5.3"/><circle cx="226.8" cy="1046.5" r="5.3"/><circle cx="231.4" cy="1049.8" r="5.3"/><circle cx="239.9" cy="1055.7" r="5.3"/><circle cx="282.1" cy="1049.1" r="5.3"/><circle cx="285.3" cy="1056.3" r="5.3"/><circle cx="291.7" cy="1058.3" r="5.3"/><circle cx="301.8" cy="1043.8" r="5.3"/><circle cx="316.3" cy="1042.5" r="5.3"/><circle cx="332.1" cy="1039.9" r="5.3"/><circle cx="333.4" cy="1041.9" r="5.3"/><circle cx="336.0" cy="1050.4" r="5.3"/><circle cx="283.1" cy="1076.1" r="5.3"/><circle cx="317.6" cy="1078.1" r="5.3"/><circle cx="343.9" cy="987.3" r="5.3"/><circle cx="343.2" cy="993.2" r="5.3"/><circle cx="352.4" cy="997.8" r="5.3"/><circle cx="374.2" cy="1005.7" r="5.3"/><circle cx="354.4" cy="1018.9" r="5.3"/><circle cx="403.8" cy="1014.9" r="5.3"/><circle cx="413.6" cy="1024.2" r="5.3"/><circle cx="380.7" cy="1020.2" r="5.3"/><circle cx="366.9" cy="1024.2" r="5.3"/><circle cx="343.9" cy="1023.5" r="5.3"/><circle cx="349.2" cy="1038.6" r="5.3"/><circle cx="359.0" cy="1036.0" r="5.3"/><circle cx="354.4" cy="1040.6" r="5.3"/><circle cx="371.5" cy="1036.7" r="5.3"/><circle cx="379.4" cy="1039.3" r="5.3"/><circle cx="362.3" cy="1045.2" r="5.3"/><circle cx="375.5" cy="1048.5" r="5.3"/><circle cx="372.8" cy="1053.8" r="5.3"/><circle cx="426.8" cy="1050.5" r="5.3"/><circle cx="451.5" cy="1051.8" r="5.3"/><circle cx="406.4" cy="1065.6" r="5.3"/><circle cx="351.8" cy="1089.2" r="5.3"/><circle cx="345.2" cy="1092.5" r="5.3"/><circle cx="353.1" cy="1096.4" r="5.3"/><circle cx="354.4" cy="1103.0" r="5.3"/><circle cx="344.6" cy="1104.3" r="5.3"/><circle cx="352.4" cy="1109.6" r="5.3"/><circle cx="338.0" cy="1097.7" r="5.3"/><circle cx="364.9" cy="1114.2" r="5.3"/><circle cx="365.6" cy="1117.5" r="5.3"/><circle cx="370.9" cy="1116.2" r="5.3"/><circle cx="394.8" cy="1121.4" r="5.3"/><circle cx="402.2" cy="1123.1" r="5.3"/><circle cx="439.0" cy="1112.9" r="5.3"/><circle cx="458.4" cy="1085.2" r="5.3"/><circle cx="486.9" cy="1081.9" r="5.3"/><circle cx="450.5" cy="1138.5" r="5.3"/><circle cx="455.1" cy="1139.8" r="5.3"/><circle cx="433.6" cy="1150.8" r="5.3"/><circle cx="489.3" cy="1133.9" r="5.3"/><circle cx="496.3" cy="1139.2" r="5.3"/><circle cx="495.6" cy="1151.7" r="5.3"/><circle cx="495.9" cy="1133.3" r="5.3"/><circle cx="558.1" cy="1185.7" r="5.3"/>
</g>
<g fill="#3a0a10">

</g>
<g fill="#7839ac">
<circle cx="152.1" cy="870.0" r="5.3"/><circle cx="149.8" cy="878.8" r="5.3"/><circle cx="149.2" cy="884.7" r="5.3"/><circle cx="161.0" cy="882.8" r="5.3"/><circle cx="167.6" cy="881.4" r="5.3"/><circle cx="174.8" cy="883.4" r="5.3"/><circle cx="159.0" cy="887.4" r="5.3"/><circle cx="168.9" cy="888.7" r="5.3"/><circle cx="156.4" cy="895.3" r="5.3"/><circle cx="147.8" cy="899.9" r="5.3"/><circle cx="150.5" cy="905.8" r="5.3"/><circle cx="155.7" cy="904.5" r="5.3"/><circle cx="155.7" cy="907.8" r="5.3"/><circle cx="154.4" cy="911.1" r="5.3"/><circle cx="192.6" cy="919.6" r="5.3"/><circle cx="210.1" cy="919.6" r="5.3"/><circle cx="199.2" cy="934.1" r="5.3"/><circle cx="216.3" cy="936.1" r="5.3"/><circle cx="221.5" cy="938.7" r="5.3"/><circle cx="211.4" cy="949.5" r="5.3"/><circle cx="247.2" cy="950.5" r="5.3"/><circle cx="228.8" cy="961.1" r="5.3"/><circle cx="234.7" cy="965.7" r="5.3"/><circle cx="244.6" cy="961.7" r="5.3"/><circle cx="176.1" cy="961.1" r="5.3"/><circle cx="277.4" cy="969.6" r="5.3"/><circle cx="289.9" cy="972.9" r="5.3"/><circle cx="312.3" cy="980.1" r="5.3"/><circle cx="266.3" cy="987.0" r="5.3"/><circle cx="272.8" cy="987.9" r="5.3"/><circle cx="285.1" cy="988.8" r="5.3"/><circle cx="319.9" cy="997.1" r="5.3"/><circle cx="307.4" cy="1003.1" r="5.3"/><circle cx="182.7" cy="1000.4" r="5.3"/><circle cx="180.7" cy="1005.7" r="5.3"/><circle cx="194.6" cy="1004.4" r="5.3"/><circle cx="207.1" cy="1008.3" r="5.3"/><circle cx="214.3" cy="1007.9" r="5.3"/><circle cx="196.5" cy="1010.3" r="5.3"/><circle cx="182.1" cy="1011.6" r="5.3"/><circle cx="188.6" cy="1013.6" r="5.3"/><circle cx="181.4" cy="1016.2" r="5.3"/><circle cx="189.9" cy="1018.2" r="5.3"/><circle cx="182.7" cy="1020.2" r="5.3"/><circle cx="214.0" cy="1019.5" r="5.3"/><circle cx="222.2" cy="1026.7" r="5.3"/><circle cx="207.1" cy="1034.6" r="5.3"/><circle cx="197.8" cy="1030.7" r="5.3"/><circle cx="225.9" cy="1039.2" r="5.3"/><circle cx="249.8" cy="1053.1" r="5.3"/><circle cx="252.8" cy="1059.0" r="5.3"/><circle cx="277.4" cy="1043.4" r="5.3"/><circle cx="285.1" cy="1048.8" r="5.3"/><circle cx="293.9" cy="1042.5" r="5.3"/><circle cx="291.9" cy="1049.1" r="5.3"/><circle cx="302.1" cy="1037.9" r="5.3"/><circle cx="325.5" cy="1040.6" r="5.3"/><circle cx="275.2" cy="1060.3" r="5.3"/><circle cx="285.3" cy="1072.1" r="5.3"/><circle cx="327.2" cy="1090.6" r="5.3"/><circle cx="357.3" cy="982.7" r="5.3"/><circle cx="351.1" cy="988.0" r="5.3"/><circle cx="366.9" cy="991.3" r="5.3"/><circle cx="361.9" cy="992.8" r="5.3"/><circle cx="384.7" cy="1003.1" r="5.3"/><circle cx="368.9" cy="1014.9" r="5.3"/><circle cx="370.9" cy="1024.2" r="5.3"/><circle cx="377.4" cy="1030.7" r="5.3"/><circle cx="384.0" cy="1031.4" r="5.3"/><circle cx="339.3" cy="1020.9" r="5.3"/><circle cx="344.6" cy="1020.2" r="5.3"/><circle cx="341.9" cy="1037.3" r="5.3"/><circle cx="352.4" cy="1049.8" r="5.3"/><circle cx="366.5" cy="1049.2" r="5.3"/><circle cx="413.0" cy="1051.8" r="5.3"/><circle cx="438.6" cy="1012.1" r="5.3"/><circle cx="338.6" cy="1103.0" r="5.3"/><circle cx="372.6" cy="1112.9" r="5.3"/>
</g>
<g fill="#1cb25a">
<circle cx="255.7" cy="803.6" r="5.3"/><circle cx="246.5" cy="827.9" r="5.3"/><circle cx="266.3" cy="831.8" r="5.3"/><circle cx="259.3" cy="833.2" r="5.3"/><circle cx="238.0" cy="844.6" r="5.3"/><circle cx="255.5" cy="848.6" r="5.3"/><circle cx="277.4" cy="857.8" r="5.3"/><circle cx="175.1" cy="924.9" r="5.3"/><circle cx="160.3" cy="931.4" r="5.3"/><circle cx="157.7" cy="937.4" r="5.3"/><circle cx="173.5" cy="947.9" r="5.3"/><circle cx="184.0" cy="946.6" r="5.3"/><circle cx="264.9" cy="950.3" r="5.3"/><circle cx="155.7" cy="961.1" r="5.3"/><circle cx="166.3" cy="960.4" r="5.3"/><circle cx="152.4" cy="969.6" r="5.3"/><circle cx="157.1" cy="969.6" r="5.3"/><circle cx="153.1" cy="976.8" r="5.3"/><circle cx="147.2" cy="979.5" r="5.3"/><circle cx="326.8" cy="1005.0" r="5.3"/><circle cx="309.0" cy="1048.4" r="5.3"/><circle cx="367.2" cy="962.3" r="5.3"/><circle cx="360.1" cy="971.5" r="5.3"/><circle cx="372.6" cy="973.9" r="5.3"/><circle cx="387.3" cy="983.4" r="5.3"/><circle cx="417.6" cy="988.4" r="5.3"/><circle cx="401.1" cy="998.1" r="5.3"/><circle cx="433.6" cy="996.5" r="5.3"/><circle cx="480.3" cy="1001.1" r="5.3"/><circle cx="343.9" cy="1006.4" r="5.3"/><circle cx="411.3" cy="1012.6" r="5.3"/><circle cx="478.8" cy="1018.2" r="5.3"/><circle cx="457.4" cy="1029.4" r="5.3"/><circle cx="381.7" cy="1035.3" r="5.3"/><circle cx="436.0" cy="1058.4" r="5.3"/><circle cx="365.6" cy="1066.9" r="5.3"/><circle cx="368.9" cy="1066.9" r="5.3"/><circle cx="380.1" cy="1067.6" r="5.3"/><circle cx="394.9" cy="1067.6" r="5.3"/><circle cx="374.2" cy="1074.2" r="5.3"/><circle cx="411.9" cy="1071.8" r="5.3"/><circle cx="483.1" cy="1070.2" r="5.3"/><circle cx="504.8" cy="1071.8" r="5.3"/><circle cx="507.7" cy="1061.0" r="5.3"/><circle cx="523.5" cy="1059.0" r="5.3"/><circle cx="516.3" cy="1085.9" r="5.3"/><circle cx="495.6" cy="1125.1" r="5.3"/><circle cx="544.3" cy="1040.3" r="5.3"/><circle cx="566.9" cy="1051.1" r="5.3"/><circle cx="571.5" cy="1058.1" r="5.3"/><circle cx="550.5" cy="1058.1" r="5.3"/><circle cx="563.0" cy="1066.2" r="5.3"/><circle cx="628.8" cy="1052.8" r="5.3"/><circle cx="644.8" cy="1156.7" r="5.3"/><circle cx="594.6" cy="1057.7" r="5.3"/><circle cx="682.3" cy="1228.8" r="5.3"/><circle cx="688.5" cy="1227.7" r="5.3"/>
</g>
<g fill="#fff33c">
<circle cx="257.1" cy="811.1" r="5.3"/><circle cx="189.7" cy="883.2" r="5.3"/><circle cx="189.7" cy="897.9" r="5.3"/><circle cx="250.2" cy="901.6" r="5.3"/><circle cx="230.1" cy="913.9" r="5.3"/><circle cx="169.9" cy="921.6" r="5.3"/><circle cx="161.4" cy="939.3" r="5.3"/><circle cx="163.6" cy="946.6" r="5.3"/><circle cx="160.3" cy="952.5" r="5.3"/><circle cx="148.1" cy="953.8" r="5.3"/><circle cx="138.6" cy="974.2" r="5.3"/><circle cx="141.3" cy="980.8" r="5.3"/><circle cx="141.3" cy="988.6" r="5.3"/><circle cx="247.2" cy="1002.0" r="5.3"/><circle cx="171.3" cy="1008.6" r="5.3"/><circle cx="309.0" cy="985.3" r="5.3"/><circle cx="322.8" cy="1009.6" r="5.3"/><circle cx="200.5" cy="1025.2" r="5.3"/><circle cx="214.7" cy="1031.1" r="5.3"/><circle cx="192.8" cy="1037.5" r="5.3"/><circle cx="313.9" cy="1036.6" r="5.3"/><circle cx="377.8" cy="981.0" r="5.3"/><circle cx="400.2" cy="983.4" r="5.3"/><circle cx="419.8" cy="991.0" r="5.3"/><circle cx="473.1" cy="995.2" r="5.3"/><circle cx="380.1" cy="1005.1" r="5.3"/><circle cx="445.9" cy="1011.9" r="5.3"/><circle cx="473.8" cy="1021.1" r="5.3"/><circle cx="478.5" cy="1026.8" r="5.3"/><circle cx="425.9" cy="1044.6" r="5.3"/><circle cx="404.8" cy="1057.7" r="5.3"/><circle cx="507.1" cy="1051.1" r="5.3"/><circle cx="531.4" cy="1051.1" r="5.3"/><circle cx="371.5" cy="1084.6" r="5.3"/><circle cx="374.8" cy="1091.2" r="5.3"/><circle cx="375.5" cy="1083.3" r="5.3"/><circle cx="546.8" cy="1059.0" r="5.3"/><circle cx="559.7" cy="1055.0" r="5.3"/><circle cx="567.3" cy="1070.6" r="5.3"/><circle cx="582.7" cy="1065.9" r="5.3"/><circle cx="590.6" cy="1059.0" r="5.3"/><circle cx="597.6" cy="1066.9" r="5.3"/>
</g></g>
<path d="M137.2 767.6H738.6V1368.0" stroke="#000" stroke-width="2.2" fill="none"/>
<text class="pl" x="14" y="770">(c)</text>
<text class="ax" x="436.8" y="1451.3" text-anchor="middle">Silicate (µmol L<tspan dy="-9" font-size="18">-1</tspan><tspan dy="9">)</tspan></text>
<text class="ax" transform="translate(55.3,1067.9) rotate(-90)" text-anchor="middle">Oxygen (µmol kg<tspan dy="-9" font-size="18">-1</tspan><tspan dy="9">)</tspan></text>
</svg>
<div class="tip">Screenshot</div>
</body></html>
